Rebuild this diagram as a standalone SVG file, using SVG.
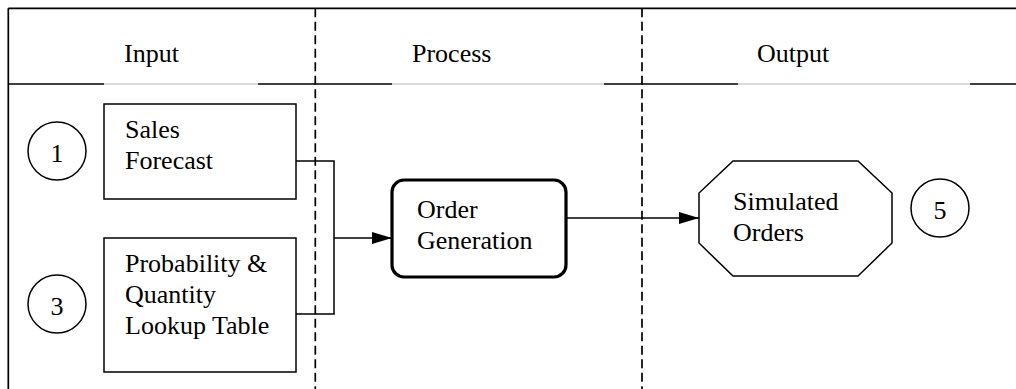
<svg xmlns="http://www.w3.org/2000/svg" width="1016" height="389" viewBox="0 0 1016 389">
<defs>
<style>
text{font-family:"Liberation Serif","Times New Roman",Times,"DejaVu Serif",serif;font-size:26px;fill:#000}
.frame{stroke:#000;stroke-width:1.7;fill:none}
.gray{stroke:#b4b4b4;stroke-width:1;fill:none}
.dash{stroke:#000;stroke-width:1.7;stroke-dasharray:9 4.5;fill:none}
.box{fill:#fff;stroke:#000;stroke-width:1.5}
.thick{fill:#fff;stroke:#000;stroke-width:3.2}
.conn{stroke:#000;stroke-width:1.5;fill:none}
.num{text-anchor:middle}
</style>
<marker id="arrow" viewBox="0 0 20 12" refX="20" refY="6" markerWidth="20" markerHeight="12" markerUnits="userSpaceOnUse" orient="auto">
<path d="M0,0 L20,6 L0,12 Z" fill="#000"/>
</marker>
</defs>
<rect width="1016" height="389" fill="#fff"/>
<g id="frame">
<line class="frame" x1="8.3" y1="8.3" x2="1016" y2="8.3"/>
<line class="frame" x1="8.3" y1="8.3" x2="8.3" y2="389"/>
<line class="gray" x1="104" y1="84" x2="258" y2="84"/>
<line class="gray" x1="392" y1="84" x2="604" y2="84"/>
<line class="gray" x1="738" y1="84" x2="970" y2="84"/>
<line class="frame" x1="8.3" y1="84" x2="104" y2="84"/>
<line class="frame" x1="258" y1="84" x2="392" y2="84"/>
<line class="frame" x1="604" y1="84" x2="738" y2="84"/>
<line class="frame" x1="970" y1="84" x2="1016" y2="84"/>
<line class="dash" x1="315.3" y1="8.3" x2="315.3" y2="389"/>
<line class="dash" x1="642" y1="8.3" x2="642" y2="389"/>
<text x="124" y="62">Input</text>
<text x="412" y="62">Process</text>
<text x="757" y="62">Output</text>
</g>
<g id="connectors">
<polyline class="conn" points="296,161 334,161 334,314 296,314"/>
<line class="conn" x1="334" y1="238" x2="392" y2="238" marker-end="url(#arrow)"/>
<line class="conn" x1="566" y1="218" x2="699" y2="218" marker-end="url(#arrow)"/>
</g>
<g id="n1">
<circle class="box" cx="57" cy="151" r="29"/>
<text class="num" x="57" y="162">1</text>
</g>
<g id="sales-forecast">
<rect class="box" x="104" y="104" width="192" height="95"/>
<text x="125" y="138">Sales</text>
<text x="125" y="169">Forecast</text>
</g>
<g id="n3">
<circle class="box" cx="57" cy="304" r="29"/>
<text class="num" x="57" y="315">3</text>
</g>
<g id="lookup-table">
<rect class="box" x="104" y="238" width="192" height="134"/>
<text x="125" y="272">Probability &amp;</text>
<text x="125" y="303">Quantity</text>
<text x="125" y="334">Lookup Table</text>
</g>
<g id="order-generation">
<rect class="thick" x="392" y="180" width="174" height="97" rx="12" ry="12"/>
<text x="417" y="218">Order</text>
<text x="417" y="249">Generation</text>
</g>
<g id="simulated-orders">
<polygon class="box" points="733,161 858,161 892,193 892,243 858,276 733,276 699,243 699,193"/>
<text x="733" y="210">Simulated</text>
<text x="733" y="241">Orders</text>
</g>
<g id="n5">
<circle class="box" cx="940" cy="208" r="29"/>
<text class="num" x="940" y="219">5</text>
</g>
</svg>
